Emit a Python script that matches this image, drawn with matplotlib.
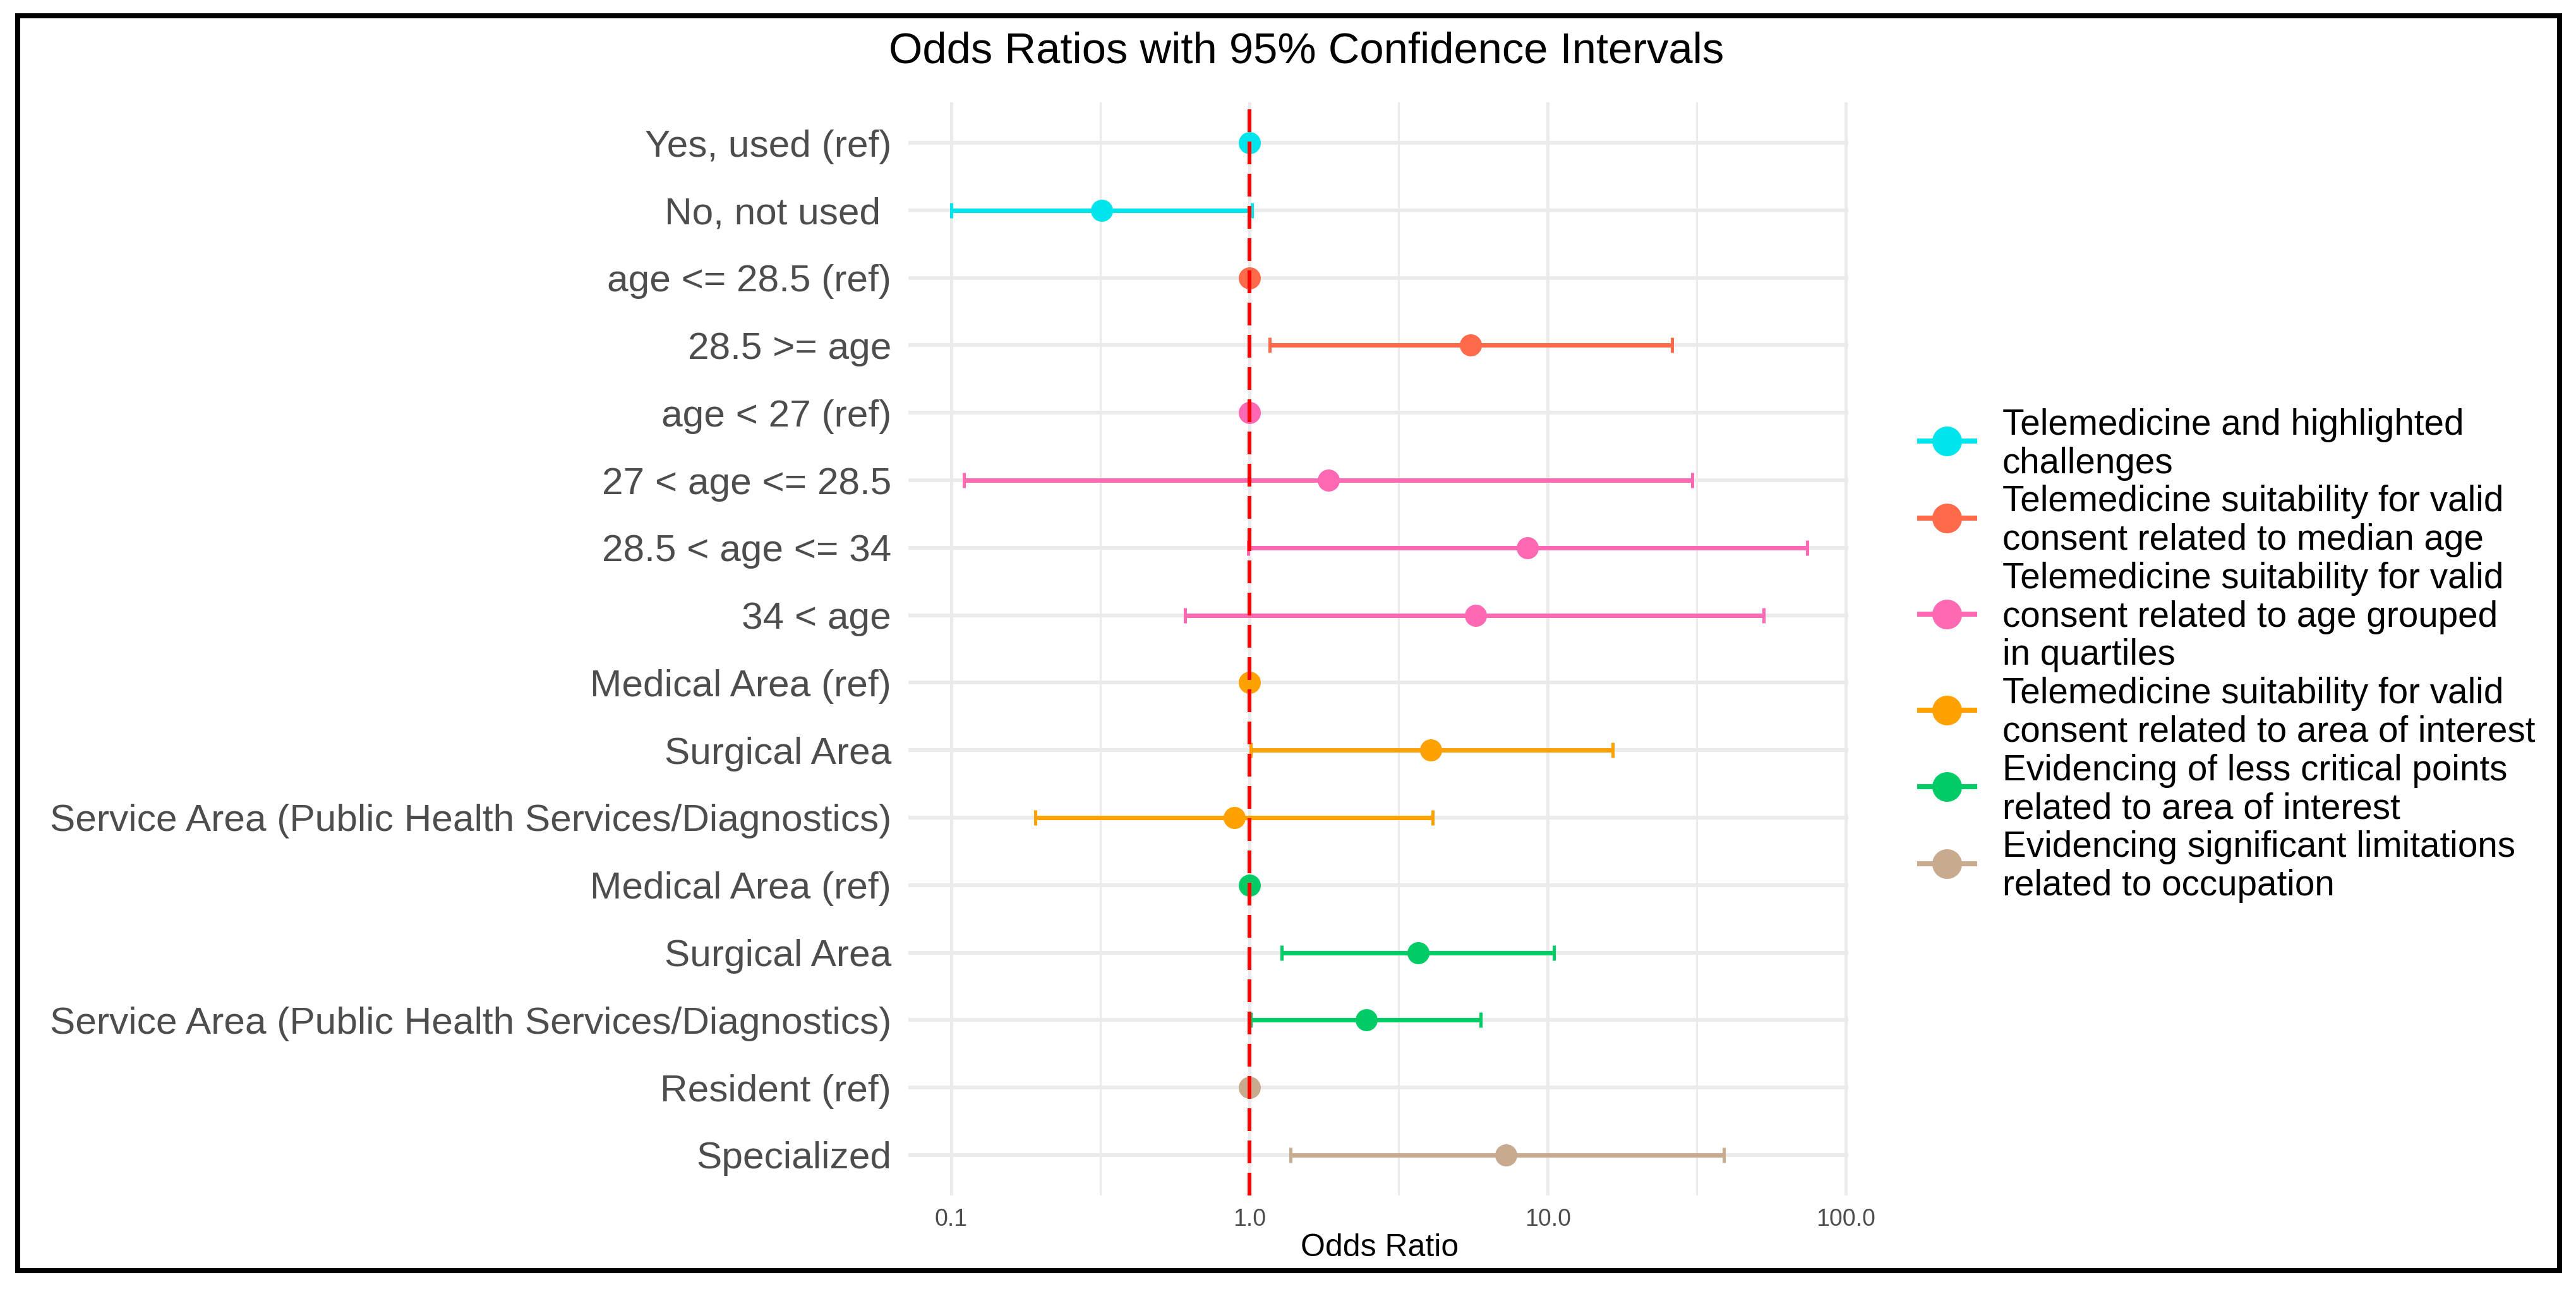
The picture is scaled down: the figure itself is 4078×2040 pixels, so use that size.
import matplotlib
matplotlib.use("Agg")
import matplotlib.pyplot as plt
from matplotlib.lines import Line2D
from matplotlib.patches import Rectangle
from matplotlib.ticker import NullFormatter
import numpy as np

# ---------------- data ----------------
labels = [
    "Yes, used (ref)",
    "No, not used ",
    "age <= 28.5 (ref)",
    "28.5 >= age",
    "age < 27 (ref)",
    "27 < age <= 28.5",
    "28.5 < age <= 34",
    "34 < age",
    "Medical Area (ref)",
    "Surgical Area",
    "Service Area (Public Health Services/Diagnostics)",
    "Medical Area (ref)",
    "Surgical Area",
    "Service Area (Public Health Services/Diagnostics)",
    "Resident (ref)",
    "Specialized",
]
odds_ratio = [1.0, 0.32, 1.0, 5.52, 1.0, 1.84, 8.55, 5.72, 1.0, 4.06, 0.89, 1.0, 3.67, 2.46, 1.0, 7.26]
ci_lower   = [1.0, 0.10, 1.0, 1.17, 1.0, 0.110, 0.99, 0.608, 1.0, 1.01, 0.191, 1.0, 1.28, 1.01, 1.0, 1.37]
ci_upper   = [1.0, 1.02, 1.0, 26.1, 1.0, 30.6, 74.3, 53.0, 1.0, 16.5, 4.12, 1.0, 10.5, 5.97, 1.0, 39.0]
row_group  = [0, 0, 1, 1, 2, 2, 2, 2, 3, 3, 3, 4, 4, 4, 5, 5]

group_labels = [
    "Telemedicine and highlighted\nchallenges",
    "Telemedicine suitability for valid\nconsent related to median age",
    "Telemedicine suitability for valid\nconsent related to age grouped\nin quartiles",
    "Telemedicine suitability for valid\nconsent related to area of interest",
    "Evidencing of less critical points\nrelated to area of interest",
    "Evidencing significant limitations\nrelated to occupation",
]
group_colors = ["#00E5EC", "#FF6A4B", "#FF69B4", "#FFA100", "#00CC66", "#C8AA8E"]

x_major = [0.1, 1.0, 10.0, 100.0]
x_major_labels = ["0.1", "1.0", "10.0", "100.0"]
x_minor = [10 ** -0.5, 10 ** 0.5, 10 ** 1.5]

title = "Odds Ratios with 95% Confidence Intervals"
xlabel = "Odds Ratio"

# ---------------- layout helpers ----------------
W, H, DPI = 4079, 2040, 300
plt.rcParams["font.family"] = ["Liberation Sans", "DejaVu Sans"]


def fx(px):
    return px / W


def fy(py):
    return 1 - py / H


def pt(px):
    return px * 72.0 / DPI


fig = plt.figure(figsize=(W / DPI, H / DPI), dpi=DPI)
fig.patch.set_facecolor("white")

ax = fig.add_axes([fx(1438), fy(1892), fx(2926) - fx(1438), fy(162) - fy(1892)])
ax.set_xscale("log")
ax.set_xlim(10 ** -1.144, 10 ** 2.008)
ax.set_ylim(len(labels) + 0.6, 0.4)

ypos = np.arange(1, len(labels) + 1)
orv = np.array(odds_ratio)
lo = np.array(ci_lower)
hi = np.array(ci_upper)
grp = np.array(row_group)

ax.set_xticks(x_major)
ax.set_xticklabels(x_major_labels)
ax.set_xticks(x_minor, minor=True)
ax.xaxis.set_minor_formatter(NullFormatter())
ax.set_yticks(ypos)
ax.set_yticklabels(labels)

ax.tick_params(which="both", length=0)
ax.tick_params(axis="y", pad=pt(27), labelsize=14.5, labelcolor="#4D4D4D")
ax.tick_params(axis="x", pad=pt(48), labelsize=9, labelcolor="#4D4D4D")
for lbl in ax.get_xticklabels():
    lbl.set_verticalalignment("baseline")

ax.grid(axis="x", which="major", color="#EBEBEB", lw=pt(5))
ax.grid(axis="x", which="minor", color="#EBEBEB", lw=pt(3))
ax.grid(axis="y", which="major", color="#EBEBEB", lw=pt(6))
ax.set_axisbelow(True)
for s in ax.spines.values():
    s.set_visible(False)

for g, col in enumerate(group_colors):
    idx = grp == g
    ax.errorbar(orv[idx], ypos[idx], xerr=[orv[idx] - lo[idx], hi[idx] - orv[idx]],
                fmt="none", ecolor=col, elinewidth=pt(7), capsize=pt(12),
                capthick=pt(5), zorder=2)
    ax.plot(orv[idx], ypos[idx], "o", color=col, ms=pt(35), mew=0, zorder=3)

ax.axvline(1.0, color="#FF0000", lw=pt(6), ls=(0, (6, 2.5)), zorder=4)

# titles
fig.text(fx(2068), fy(100), title, ha="center", va="baseline", fontsize=16.5, color="black")
fig.text(fx(2184), fy(1988), xlabel, ha="center", va="baseline", fontsize=12, color="black")

# legend (manual)
line_i = 0
for g, name in enumerate(group_labels):
    col = group_colors[g]
    lines = name.split("\n")
    bl = [688 + 60.75 * (line_i + k) for k in range(len(lines))]
    for k, t in enumerate(lines):
        fig.text(fx(3170), fy(bl[k]), t, ha="left", va="baseline", fontsize=13.6, color="black")
    ky = (bl[0] - 40 + bl[-1]) / 2
    fig.add_artist(Line2D([fx(3035), fx(3130)], [fy(ky), fy(ky)], color=col, lw=pt(8),
                          transform=fig.transFigure, solid_capstyle="butt"))
    fig.add_artist(Line2D([fx(3082)], [fy(ky)], marker="o", ms=pt(47), color=col, mew=0,
                          ls="none", transform=fig.transFigure))
    line_i += len(lines)

# outer border
fig.add_artist(Rectangle((fx(28), fy(2011)), fx(4052) - fx(28), fy(25) - fy(2011),
                         fill=False, lw=pt(8), ec="black", transform=fig.transFigure))

fig.savefig("out.png", dpi=DPI)
